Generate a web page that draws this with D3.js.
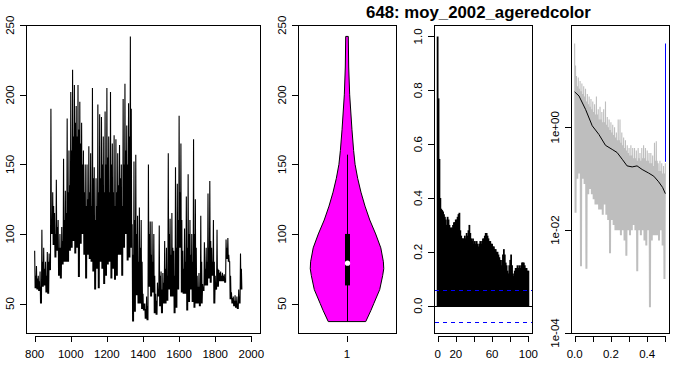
<!DOCTYPE html>
<html><head><meta charset="utf-8">
<script src="https://cdn.jsdelivr.net/npm/d3@7"></script>
<style>
body{margin:0;background:#fff;}
svg{display:block;font-family:"Liberation Sans",Arial,Helvetica,sans-serif;}
</style></head><body>
<svg id="c" width="681" height="371"></svg>
<script>
// ---------- DATA ----------
const title = "648: moy_2002_ageredcolor";

// time series, read per decade: spike high, low, typical upper band
const tsDecades = d3.range(800, 1950, 10);
const tsHigh = [88,77,70,73,103,90,80,87,86,190, 130,115,139,110,100,105,154,131,183,160,
  202,218,207,192,207,195,180,160,150,150, 163,158,205,148,140,193,186,184,170,188,
  205,170,202,165,171,168,158,164,150,197, 208,178,194,242,107,152,157,113,119,110,
  57,50,55,150,109,109,100,57,65,106, 73,72,95,90,158,111,115,88,148,136,
  185,165,88,104,127,143,110,100,168,125, 70,72,113,64,94,90,129,138,90,110,
  70,103,74,73,72,71,96,97,80,58, 55,56,55,60,86];
const tsLow = [61,60,59,50,62,63,58,57,74,100, 92,83,88,70,68,78,80,80,80,88,
  90,95,86,90,69,93,100,85,68,85, 82,80,73,60,75,61,80,75,64,70,
  78,80,68,75,67,70,85,85,70,90, 100,81,83,90,37,44,56,50,50,46,
  45,39,38,62,55,58,43,42,55,48, 43,50,50,52,60,55,55,43,47,60,
  90,58,57,57,45,51,60,51,47,50, 50,48,50,59,63,63,68,65,70,50,
  60,62,66,66,66,65,82,80,53,50, 48,47,46,50,60];
const tsMid = [70,68,66,62,80,75,70,80,80,110, 120,100,105,90,90,95,110,115,130,135,
  160,170,180,170,175,165,150,130,120,125, 130,120,140,110,120,130,140,150,130,150,
  155,130,150,130,120,130,135,140,120,150, 160,150,170,190,85,110,100,80,90,80,
  50,46,48,100,85,80,70,52,60,70, 60,65,75,70,100,85,90,70,90,110,
  130,110,75,80,90,100,85,80,100,90, 62,62,80,62,75,80,90,95,80,80,
  65,75,72,70,70,68,90,85,70,54, 52,52,50,55,75];

// violin (value, relative density) and box stats
const violinValues  = [37,45,50,60,70,75,80,90,100,110,120,130,140,150,160,175,200,220,242];
const violinDensity = [0.51,0.65,0.73,0.89,0.97,1.0,0.99,0.92,0.78,0.62,0.49,0.38,0.29,0.22,0.18,0.135,0.073,0.046,0.035];
const violinStats = {min:37, q1:63, median:79, q3:100, whiskerHi:157};

// autocorrelation, lags 0..100
const acfLags = d3.range(0, 101);
const acfValues = [
  1.00,0.77,0.545,0.40,0.36,0.355,0.35,0.34,0.33,0.32,
  0.30,0.33,0.32,0.30,0.29,0.29,0.29,0.30,0.31,0.31,
  0.32,0.32,0.33,0.34,0.345,0.28,0.26,0.25,0.25,0.25,
  0.26,0.25,0.27,0.26,0.28,0.30,0.27,0.25,0.24,0.25,
  0.23,0.24,0.23,0.24,0.23,0.22,0.23,0.24,0.23,0.24,
  0.25,0.25,0.26,0.27,0.27,0.26,0.25,0.24,0.24,0.23,
  0.23,0.22,0.22,0.21,0.21,0.20,0.20,0.19,0.18,0.17,
  0.15,0.17,0.19,0.21,0.19,0.16,0.15,0.13,0.12,0.15,
  0.17,0.19,0.15,0.12,0.11,0.13,0.14,0.14,0.15,0.14,
  0.15,0.14,0.15,0.16,0.16,0.16,0.15,0.14,0.14,0.13,
  0.13];
const acfCI = 0.059;

// spectrum (log10 of spectral density), bins of 0.01 in frequency
const specFreq = d3.range(50).map(i => i / 100);
const specHiExp = [1.63,1.0,0.97,0.9,0.85,0.8,0.75,0.65,0.6,0.55, 0.5,0.45,0.6,0.35,0.4,0.3,0.35,0.5,0.2,0.15,
  0.1,0.05,0.0,-0.1,0.15,0.15,-0.1,-0.2,-0.25,-0.35, -0.4,-0.35,-0.4,-0.4,-0.45,-0.4,-0.5,-0.4,-0.35,-0.4,
  -0.45,-0.5,-0.5,-0.55,-0.3,-0.27,-0.7,-0.65,-0.7,-0.75];
const specMidExp = [1.2,0.8,0.75,0.7,0.65,0.6,0.5,0.45,0.4,0.35, 0.3,0.25,0.25,0.15,0.15,0.1,0.1,0.05,0.0,-0.05,
  -0.1,-0.15,-0.2,-0.25,-0.25,-0.3,-0.35,-0.4,-0.45,-0.5, -0.55,-0.55,-0.6,-0.6,-0.65,-0.6,-0.65,-0.6,-0.6,-0.65,
  -0.65,-0.7,-0.7,-0.75,-0.65,-0.65,-0.85,-0.85,-0.9,-0.9];
const specLoExp = [-1.66,-1.0,-0.9,-2.7,-1.0,-1.1,-2.75,-1.3,-1.2,-1.3, -1.4,-1.5,-1.5,-1.6,-1.6,-1.7,-1.5,-1.7,-1.8,-2.45,
  -1.8,-1.9,-2.0,-2.0,-2.0,-2.1,-2.0,-2.2,-2.5,-2.0, -2.1,-2.0,-1.9,-2.0,-2.8,-2.0,-2.1,-2.0,-2.2,-2.3,
  -2.0,-3.5,-2.2,-2.1,-2.1,-2.1,-2.2,-2.0,-2.3,-2.95];
const specEndExp = -0.7;
const smoothFreq = [0,0.024,0.06,0.097,0.134,0.17,0.207,0.234,0.262,0.289,0.317,0.344,0.372,0.408,0.436,0.463,0.485,0.5];
const smoothExp  = [0.69,0.61,0.35,0.03,-0.14,-0.35,-0.43,-0.49,-0.62,-0.75,-0.77,-0.75,-0.82,-0.89,-0.95,-1.06,-1.17,-1.29];
const ciFreq = 0.5, ciLoExp = -0.67, ciHiExp = 1.63;

// tick labels
const tsXTicks = [800,1000,1200,1400,1600,1800,2000];
const valYTicks = [50,100,150,200,250];
const acfXTicks = [0,20,40,60,80,100];
const acfXLabels = ["0","20","","60","","100"];
const acfYTicks = [0,0.2,0.4,0.6,0.8,1.0];
const specXTicks = [0,0.1,0.2,0.3,0.4,0.5];
const specXLabels = ["0.0","","0.2","","0.4",""];
const specYTicks = [1e-4,1e-2,1];
const specYLabels = ["1e-04","1e-02","1e+00"];

// ---------- LAYOUT ----------
const svg = d3.select("#c");
const TOP = 25, BOT = 333, AXY = 336, FS = 11.5;
const P1 = [26, 260], P2 = [298, 396], P3 = [434, 532], P4 = [571, 669];
const cr = v => Math.round(v) + 0.5;

function box(p){
  svg.append("rect").attr("x", p[0]+0.5).attr("y", TOP+0.5)
    .attr("width", p[1]-p[0]).attr("height", BOT-TOP)
    .attr("fill","none").attr("stroke","#000").attr("stroke-width",1);
}
function axisBottom(sc, ticks, labels){
  const g = svg.append("g");
  g.append("line").attr("x1", cr(sc(ticks[0]))).attr("x2", cr(sc(ticks[ticks.length-1])))
    .attr("y1", AXY+0.5).attr("y2", AXY+0.5).attr("stroke","#000");
  ticks.forEach((t,i)=>{
    g.append("line").attr("x1", cr(sc(t))).attr("x2", cr(sc(t))).attr("y1", AXY).attr("y2", AXY+6).attr("stroke","#000");
    if (labels[i]) g.append("text").attr("x", sc(t)).attr("y", 358).attr("text-anchor","middle")
      .attr("font-size", FS).text(labels[i]);
  });
}
function axisLeft(sc, x, ticks, labels){
  const g = svg.append("g");
  g.append("line").attr("x1", x+0.5).attr("x2", x+0.5)
    .attr("y1", cr(sc(ticks[0]))).attr("y2", cr(sc(ticks[ticks.length-1]))).attr("stroke","#000");
  ticks.forEach((t,i)=>{
    g.append("line").attr("x1", x-6).attr("x2", x).attr("y1", cr(sc(t))).attr("y2", cr(sc(t))).attr("stroke","#000");
    g.append("text").attr("transform", `translate(${x-12},${sc(t)}) rotate(-90)`)
      .attr("text-anchor","middle").attr("font-size", FS).text(labels[i]);
  });
}

// ---------- PANEL 1: time series ----------
const x1 = d3.scaleLinear().domain([752, 2048]).range(P1);
const yv = d3.scaleLinear().domain([28.8, 250.2]).range([BOT, TOP]);
const tsPts = [];
tsDecades.forEach((d,i)=>{
  tsPts.push([d, tsHigh[i]]); tsPts.push([d+2.5, tsLow[i]]);
  tsPts.push([d+5, tsMid[i]]); tsPts.push([d+7.5, tsLow[i]]);
});
svg.append("path").datum(tsPts)
  .attr("d", d3.line().x(d=>x1(d[0])).y(d=>yv(d[1])))
  .attr("fill","none").attr("stroke","#000").attr("stroke-width",1.1);
box(P1);
axisBottom(x1, tsXTicks, tsXTicks.map(String));
axisLeft(yv, P1[0], valYTicks, valYTicks.map(String));

// ---------- PANEL 2: violin ----------
const xvi = d3.scaleLinear().domain([0.4, 1.6]).range(P2);
const vw = 0.45;
const vdata = violinValues.map((v,i)=>({v, d: violinDensity[i]}));
svg.append("path").datum(vdata)
  .attr("d", d3.area().y(d=>yv(d.v)).x0(d=>xvi(1 - d.d*vw)).x1(d=>xvi(1 + d.d*vw)))
  .attr("fill","#FF00FF").attr("stroke","#000").attr("stroke-width",1);
svg.append("line").attr("x1", cr(xvi(1))).attr("x2", cr(xvi(1)))
  .attr("y1", yv(violinStats.min)).attr("y2", yv(violinStats.whiskerHi)).attr("stroke","#000");
svg.append("rect").attr("x", Math.round(xvi(1))-2).attr("width", 5)
  .attr("y", yv(violinStats.q3)).attr("height", yv(violinStats.q1)-yv(violinStats.q3)).attr("fill","#000");
svg.append("circle").attr("cx", Math.round(xvi(1))+0.5).attr("cy", yv(violinStats.median)).attr("r", 2.6).attr("fill","#fff");
box(P2);
axisBottom(xvi, [1], ["1"]);
axisLeft(yv, P2[0], valYTicks, valYTicks.map(String));

// ---------- PANEL 3: ACF ----------
const xa = d3.scaleLinear().domain([-4, 104]).range(P3);
const ya = d3.scaleLinear().domain([-0.1014, 1.0424]).range([BOT, TOP]);
svg.append("g").selectAll("line").data(acfLags).join("line")
  .attr("x1", d=>xa(d)).attr("x2", d=>xa(d))
  .attr("y1", cr(ya(0))).attr("y2", (d,i)=>ya(acfValues[i]))
  .attr("stroke","#000").attr("stroke-width",1.8);
svg.append("line").attr("x1", P3[0]).attr("x2", P3[1]).attr("y1", cr(ya(0))).attr("y2", cr(ya(0))).attr("stroke","#000");
[acfCI, -acfCI].forEach(c=>{
  svg.append("line").attr("x1", P3[0]+1).attr("x2", P3[1]).attr("y1", cr(ya(c))).attr("y2", cr(ya(c)))
    .attr("stroke","#0000FF").attr("stroke-width",1).attr("stroke-dasharray","4,4");
});
box(P3);
axisBottom(xa, acfXTicks, acfXLabels);
axisLeft(ya, P3[0], acfYTicks, acfYTicks.map(d=>d.toFixed(1)));

// ---------- PANEL 4: spectrum ----------
const xs = d3.scaleLinear().domain([-0.02, 0.52]).range(P4);
const ys = d3.scaleLog().domain([1e-4, Math.pow(10,1.99)]).range([BOT, TOP]);
const spPts = [];
specFreq.forEach((f,i)=>{
  spPts.push([f, Math.pow(10,specHiExp[i])]); spPts.push([f+0.0025, Math.pow(10,specLoExp[i])]);
  spPts.push([f+0.005, Math.pow(10,specMidExp[i])]); spPts.push([f+0.0075, Math.pow(10,specLoExp[i])]);
});
spPts.push([0.5, Math.pow(10, specEndExp)]);
svg.append("path").datum(spPts)
  .attr("d", d3.line().x(d=>xs(d[0])).y(d=>ys(d[1])))
  .attr("fill","none").attr("stroke","#BEBEBE").attr("stroke-width",1.1);
svg.append("path").datum(smoothFreq.map((f,i)=>[f, Math.pow(10, smoothExp[i])]))
  .attr("d", d3.line().x(d=>xs(d[0])).y(d=>ys(d[1])))
  .attr("fill","none").attr("stroke","#000").attr("stroke-width",1);
svg.append("line").attr("x1", cr(xs(ciFreq))).attr("x2", cr(xs(ciFreq)))
  .attr("y1", ys(Math.pow(10,ciLoExp))).attr("y2", ys(Math.pow(10,ciHiExp))).attr("stroke","#0000FF");
box(P4);
axisBottom(xs, specXTicks, specXLabels);
axisLeft(ys, P4[0], specYTicks, specYLabels);

// ---------- TITLE ----------
svg.append("text").attr("x", 478.5).attr("y", 18).attr("text-anchor","middle")
  .attr("font-size", 16.8).attr("font-weight","bold").text(title);
</script>
</body></html>
